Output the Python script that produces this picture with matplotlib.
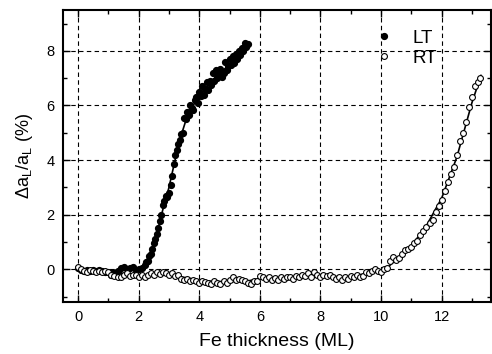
import matplotlib
matplotlib.use('Agg')
import matplotlib.pyplot as plt
from matplotlib.ticker import MultipleLocator

# LT (filled) data
lt_x = [0.0, 0.1, 0.2, 0.3, 0.4, 0.5, 0.6, 0.7, 0.8, 0.9, 1.0, 1.1, 1.2, 1.3,
        1.4, 1.5, 1.6, 1.7, 1.8, 1.9, 2.0, 2.1, 2.2, 2.25, 2.3, 2.35, 2.4,
        2.45, 2.5, 2.55, 2.6, 2.65, 2.7, 2.75, 2.8, 2.85, 2.9, 2.95, 3.0,
        3.05, 3.1, 3.15, 3.2, 3.25, 3.3, 3.35, 3.4, 3.45, 3.5, 3.55, 3.6,
        3.65, 3.7, 3.75, 3.8, 3.85, 3.9, 3.95, 4.0, 4.05, 4.1, 4.15, 4.2,
        4.25, 4.3, 4.35, 4.4, 4.45, 4.5, 4.55, 4.6, 4.65, 4.7, 4.75, 4.8,
        4.85, 4.9, 4.95, 5.0, 5.05, 5.1, 5.15, 5.2, 5.25, 5.3, 5.35, 5.4,
        5.45, 5.5, 5.55, 5.6]
lt_y = [0.05, -0.02, -0.05, -0.02, -0.05, -0.03, -0.08, -0.02, -0.05, -0.1,
        -0.12, -0.2, -0.15, -0.05, 0.05, 0.08, 0.0, 0.05, 0.08, -0.02, 0.0,
        0.05, 0.15, 0.25, 0.3, 0.5, 0.55, 0.75, 0.95, 1.1, 1.3, 1.5, 1.75,
        2.0, 2.35, 2.5, 2.7, 2.65, 2.8, 3.1, 3.4, 3.85, 4.2, 4.35, 4.6, 4.75,
        4.95, 5.0, 5.55, 5.5, 5.75, 5.65, 6.0, 5.9, 5.85, 6.2, 6.3, 6.1, 6.5,
        6.35, 6.7, 6.4, 6.6, 6.85, 6.55, 6.9, 6.75, 7.2, 6.9, 7.3, 7.0, 7.1,
        7.35, 7.05, 7.2, 7.6, 7.3, 7.45, 7.7, 7.5, 7.8, 7.55, 7.9, 7.7, 8.0,
        7.85, 8.1, 8.0, 8.3, 8.15, 8.25]
lt_fit_x = [0.0, 1.0, 2.0, 2.2, 2.4, 2.6, 2.8, 3.0, 3.2, 3.4, 3.6, 3.8, 4.0,
            4.5, 5.0, 5.5, 5.6]
lt_fit_y = [0.0, -0.05, 0.0, 0.15, 0.6, 1.3, 2.2, 3.0, 4.0, 4.9, 5.6, 6.0,
            6.35, 7.0, 7.5, 8.05, 8.15]

# RT (open) data
rt_x = [0.0, 0.1, 0.2, 0.3, 0.4, 0.5, 0.6, 0.7, 0.8, 0.9, 1.0, 1.1, 1.2, 1.3,
        1.4, 1.5, 1.6, 1.7, 1.8, 1.9, 2.0, 2.1, 2.2, 2.3, 2.4, 2.5, 2.6, 2.7,
        2.8, 2.9, 3.0, 3.1, 3.2, 3.3, 3.4, 3.5, 3.6, 3.7, 3.8, 3.9, 4.0, 4.1,
        4.2, 4.3, 4.4, 4.5, 4.6, 4.7, 4.8, 4.9, 5.0, 5.1, 5.2, 5.3, 5.4, 5.5,
        5.6, 5.7, 5.8, 5.9, 6.0, 6.1, 6.2, 6.3, 6.4, 6.5, 6.6, 6.7, 6.8, 6.9,
        7.0, 7.1, 7.2, 7.3, 7.4, 7.5, 7.6, 7.7, 7.8, 7.9, 8.0, 8.1, 8.2, 8.3,
        8.4, 8.5, 8.6, 8.7, 8.8, 8.9, 9.0, 9.1, 9.2, 9.3, 9.4, 9.5, 9.6, 9.7,
        9.8, 9.9, 10.0, 10.1, 10.2, 10.3, 10.4, 10.5, 10.6, 10.7, 10.8, 10.9,
        11.0, 11.1, 11.2, 11.3, 11.4, 11.5, 11.6, 11.7, 11.8, 11.9, 12.0, 12.1,
        12.2, 12.3, 12.4, 12.5, 12.6, 12.7, 12.8, 12.9, 13.0, 13.1, 13.2, 13.25]
rt_y = [0.08, 0.02, -0.05, -0.1, -0.02, -0.05, -0.1, -0.05, -0.12, -0.05,
        -0.1, -0.2, -0.25, -0.3, -0.28, -0.2, -0.15, -0.25, -0.2, -0.22,
        -0.28, -0.2, -0.3, -0.22, -0.15, -0.2, -0.12, -0.18, -0.1, -0.15,
        -0.2, -0.15, -0.25, -0.2, -0.35, -0.4, -0.35, -0.42, -0.38, -0.45,
        -0.5, -0.42, -0.48, -0.5, -0.55, -0.45, -0.5, -0.55, -0.45, -0.5,
        -0.4, -0.3, -0.38, -0.35, -0.4, -0.45, -0.5, -0.55, -0.45, -0.42,
        -0.25, -0.3, -0.35, -0.3, -0.4, -0.32, -0.38, -0.3, -0.35, -0.3,
        -0.28, -0.35, -0.25, -0.3, -0.2, -0.25, -0.15, -0.3, -0.12, -0.22,
        -0.3, -0.2, -0.25, -0.2, -0.3, -0.35, -0.3, -0.4, -0.3, -0.35,
        -0.25, -0.3, -0.2, -0.3, -0.25, -0.1, -0.15, -0.05, 0.0, -0.05,
        -0.1, 0.0, 0.05, 0.3, 0.45, 0.35, 0.4, 0.55, 0.7, 0.75,
        0.8, 0.95, 1.05, 1.25, 1.4, 1.55, 1.7, 1.8, 2.1, 2.3,
        2.55, 2.85, 3.2, 3.5, 3.75, 4.2, 4.7, 5.0, 5.4, 5.95,
        6.3, 6.7, 6.85, 7.0]
rt_fit_x = [0.0, 1.0, 2.0, 3.0, 3.5, 4.0, 4.5, 5.0, 5.5, 6.0, 7.0, 8.0, 9.0,
            9.5, 10.0, 10.2, 10.5, 11.0, 11.5, 12.0, 12.5, 13.0, 13.3]
rt_fit_y = [0.0, -0.1, -0.2, -0.2, -0.3, -0.4, -0.45, -0.45, -0.45, -0.35,
            -0.3, -0.25, -0.3, -0.15, -0.05, 0.05, 0.35, 0.85, 1.6, 2.6, 4.1,
            6.1, 7.1]

plt.rcParams['font.family'] = ['Liberation Sans', 'DejaVu Sans']
plt.rcParams['mathtext.fontset'] = 'custom'
plt.rcParams['mathtext.rm'] = 'Liberation Sans'

fig = plt.figure(figsize=(4.92, 3.54), dpi=100)
ax = fig.add_axes([0.128, 0.147, 0.87, 0.825])

ax.plot(lt_fit_x, lt_fit_y, '-', color='black', lw=1.2)
ax.plot(rt_fit_x, rt_fit_y, '-', color='black', lw=1.2)
ax.plot(lt_x, lt_y, 'o', color='black', ms=4.2, label='LT', zorder=3)
ax.plot(rt_x, rt_y, 'o', mfc='white', mec='black', mew=0.8, ms=4.2,
        label='RT', zorder=3)

ax.set_xlim(-0.5, 13.63)
ax.set_ylim(-1.2, 9.5)
ax.xaxis.set_major_locator(MultipleLocator(2))
ax.xaxis.set_minor_locator(MultipleLocator(1))
ax.yaxis.set_major_locator(MultipleLocator(2))
ax.yaxis.set_minor_locator(MultipleLocator(1))
ax.tick_params(which='both', direction='in', top=True, right=True,
               labelsize=10.5, width=1.0)
ax.tick_params(which='major', length=5, pad=6)
ax.tick_params(which='minor', length=3)
ax.grid(True, which='major', color='black', linestyle=(0, (4, 3)), lw=0.8)
for s in ax.spines.values():
    s.set_linewidth(1.5)

ax.set_xlabel('Fe thickness (ML)', fontsize=14, labelpad=6)
ax.set_ylabel(r'$\Delta\mathregular{a_L/a_L}$ (%)', fontsize=13, labelpad=8)

ax.legend(loc='upper left', bbox_to_anchor=(0.685, 0.99), frameon=False,
          fontsize=13.5, handlelength=1.2, handletextpad=0.9, labelspacing=0.15)

fig.savefig('out.png', dpi=100)
